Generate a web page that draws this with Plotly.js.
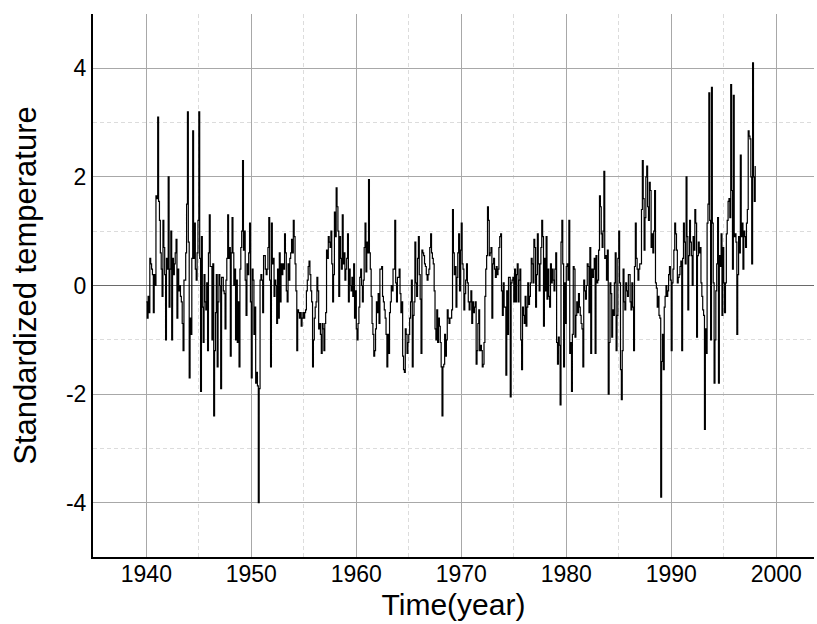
<!DOCTYPE html>
<html>
<head>
<meta charset="utf-8">
<script src="https://cdn.plot.ly/plotly-3.0.1.min.js"></script>
<style>html,body{margin:0;padding:0;background:#fff;}#chart{width:817px;height:624px;}</style>
</head>
<body>
<div id="chart"></div>
<script>
// Monthly standardized temperature, one array per decade (January first)
var startYear = 1940;
var values1940s = [
  -0.3,-0.6,-0.2,-0.5,0.5,0.4,0.3,0.2,-0.5,0.2,0.0,1.65,
  1.6,3.1,1.55,1.2,0.6,0.3,-0.2,1.2,0.7,0.2,-1.0,0.5,
  0.3,2.0,-0.4,0.3,1.0,-1.0,0.5,0.2,0.4,0.6,0.85,-0.6,
  0.3,-0.1,0.0,-0.2,-0.3,-0.7,-1.2,0.1,0.1,0.6,1.5,3.2,
  0.8,-1.7,-0.6,-0.9,0.5,2.85,0.5,1.15,0.3,0.1,0.6,1.2,
  3.2,0.5,-1.95,0.9,-0.4,-1.05,0.2,-0.3,-0.45,0.05,-1.2,0.6,
  1.3,0.35,0.35,-1.0,0.4,-2.4,-1.2,-0.5,0.2,-1.5,-0.3,0.2,
  0.0,-1.9,0.15,0.15,-0.1,-0.15,-0.8,0.1,0.5,1.3,0.5,0.7,
  -1.3,0.6,1.25,0.6,0.0,0.3,-1.0,0.1,-1.05,-0.3,-1.5,0.3,
  0.7,1.0,2.3,0.65,1.0,0.1,-0.55,0.4,0.2,0.6,1.15,-0.3
];
var values1950s = [
  -1.7,0.3,0.1,-0.9,-0.4,-1.8,-1.6,-1.85,-4.0,-1.9,0.1,0.2,
  0.1,-0.5,0.55,0.55,0.3,0.2,0.3,0.7,1.25,0.1,-1.5,1.15,
  0.4,0.5,-0.2,0.1,0.0,-0.7,0.3,-0.6,0.6,-0.3,0.4,0.2,
  0.4,0.3,0.95,0.6,-0.1,-0.3,0.4,0.1,0.5,0.6,0.85,0.6,
  1.2,0.9,0.4,-0.1,-1.2,-0.45,-0.5,-0.6,-0.5,-0.75,-0.6,-0.5,
  -0.6,-0.5,-0.45,-0.1,0.1,0.35,0.45,0.2,-0.1,-0.3,-1.5,-1.0,
  -0.6,-0.4,-0.3,0.15,-0.1,-0.8,-0.7,-0.9,-1.25,-0.7,-0.8,-1.2,
  -0.7,-0.5,0.65,0.5,0.9,0.8,0.7,1.0,0.4,-0.3,0.2,1.35,
  0.9,1.8,1.45,1.0,-0.2,0.9,0.5,0.3,1.3,0.4,0.6,0.1,
  0.3,0.5,0.95,-0.3,0.3,0.0,-0.1,0.15,-0.2,0.4,-0.6,-0.1
];
var values1960s = [
  -0.8,-1.0,-0.7,-0.4,0.15,0.3,0.0,-0.3,0.1,0.7,1.15,0.25,
  0.8,0.6,1.95,0.6,0.3,-0.2,-0.7,-0.9,-1.3,-1.2,-0.8,-0.3,
  -0.5,-0.15,-0.7,0.3,0.3,0.35,-0.2,-0.3,-0.45,-0.6,-0.9,-1.5,
  -0.9,-1.25,-0.5,-0.3,0.0,-0.1,0.3,0.3,1.2,0.05,-0.3,0.15,
  0.15,0.3,-0.15,-0.5,-0.3,-1.3,-1.55,-1.6,-0.8,-0.9,-1.25,-1.05,
  -0.9,-0.6,-0.3,0.1,-1.5,-0.55,-0.3,0.8,0.05,-0.2,0.5,0.9,
  0.2,-0.25,-1.25,0.65,0.6,0.55,0.4,0.35,0.2,0.1,0.2,0.3,
  0.7,0.95,0.6,0.5,0.4,-0.1,-0.8,-1.0,-0.45,-1.05,-0.6,-0.75,
  -1.05,-1.5,-2.4,-1.5,-1.45,-0.9,-1.3,-1.0,-0.45,-0.6,-0.7,-0.6,
  -0.6,-0.45,1.4,0.6,0.2,0.35,-0.4,0.15,0.6,0.95,-0.1,0.65
];
var values1970s = [
  1.15,0.4,0.3,-0.45,-0.15,0.1,0.4,0.05,-0.3,-0.45,-0.3,-0.1,
  -0.7,-0.3,-0.5,-0.4,-0.3,-1.45,-1.2,-0.7,-0.45,-1.2,-1.1,-1.2,
  -1.5,-1.45,-1.05,-0.2,0.3,0.55,1.45,1.2,0.55,0.6,0.7,-0.6,
  0.4,0.5,0.3,0.15,0.35,0.2,0.3,0.7,0.9,0.95,-0.1,-0.55,
  0.05,-0.4,-0.4,-1.65,-0.1,-0.9,0.15,0.15,-2.05,0.05,0.1,0.15,
  -0.3,0.3,-0.3,0.2,0.4,-0.3,0.1,0.3,-1.0,-1.55,-0.4,-0.55,
  -0.7,-0.2,-0.75,-0.4,0.05,-0.35,-0.2,0.05,0.5,0.4,0.05,0.85,
  0.7,-0.4,0.2,0.95,0.4,-0.1,0.4,0.7,1.2,0.9,-0.75,0.5,
  -0.1,0.9,-0.25,0.3,-0.2,-0.4,0.4,0.05,0.3,0.1,-0.1,0.3,
  0.6,-1.05,-1.45,-0.95,-1.1,-2.2,0.8,1.2,0.4,-1.5,0.05,-0.7
];
var values1980s = [
  0.35,0.4,0.1,1.2,-1.25,-1.05,-1.95,-0.9,0.35,0.3,-0.95,-0.55,
  -0.3,-0.5,-0.15,-0.4,-0.55,-0.7,-0.8,-1.5,0.1,-0.1,-0.25,0.0,
  0.4,0.35,-0.5,0.7,-1.25,0.3,0.15,0.3,0.5,-1.25,0.55,0.05,
  0.1,0.65,1.65,1.45,0.95,0.7,1.0,2.1,0.5,0.55,0.1,0.65,
  -2.0,-1.05,0.05,-0.15,-0.95,-0.45,-0.55,0.05,0.6,-1.2,-0.55,0.5,
  1.0,0.05,-1.55,-2.1,-1.2,0.3,-0.3,-0.45,0.05,-0.1,-0.2,0.2,
  0.2,-0.3,-0.45,0.05,-0.4,-1.2,0.35,1.15,0.5,0.3,0.1,0.3,
  0.4,0.4,1.4,2.3,1.6,0.65,1.25,2.0,2.2,1.45,1.2,1.9,
  1.75,0.7,0.95,0.6,1.0,1.75,0.05,-0.05,-0.4,-0.2,-0.55,-0.6,
  -3.9,-1.4,-0.9,-1.55,-0.4,-0.2,0.0,-0.2,-0.1,0.2,0.35,0.1
];
var values1990s = [
  -1.2,0.05,0.3,0.65,1.15,0.95,0.65,0.05,0.15,0.2,0.35,0.45,
  -1.2,0.5,1.15,0.8,0.4,2.0,0.9,-0.45,0.55,1.2,0.8,0.55,
  0.0,0.9,0.65,1.4,1.15,-0.95,0.55,0.8,0.6,0.7,0.05,-0.2,
  -0.45,-0.55,-2.65,-0.8,-1.25,1.15,1.5,3.55,1.2,-1.0,3.65,1.15,
  0.05,-1.8,-1.0,-0.1,0.4,1.25,-1.8,0.55,0.35,0.95,-0.55,0.7,
  0.05,-0.5,0.05,0.95,1.2,1.55,1.6,1.25,3.7,1.75,0.3,3.5,
  0.9,0.95,0.8,-0.9,0.2,0.9,0.6,2.4,0.9,1.15,0.3,1.0,
  0.9,0.7,1.15,1.4,2.85,2.75,2.7,2.0,0.4,4.1,2.0,1.55,
  2.2
];
var xTickVals = [1940, 1950, 1960, 1970, 1980, 1990, 2000];
var yTickVals = [-4, -2, 0, 2, 4];
var yTickText = ['-4', '-2', '0', '2', '4'];
var xTitle = 'Time(year)';
var yTitle = 'Standardized temperature';

var series = [].concat(values1940s, values1950s, values1960s, values1970s, values1980s, values1990s);
var times = series.map(function (v, i) { return startYear + i / 12; });

var font = '"Liberation Sans", Arial, sans-serif';
var trace = {
  x: times, y: series, type: 'scatter', mode: 'lines',
  line: {color: '#000', width: 1.2, shape: 'hv'}, hoverinfo: 'skip'
};
var layout = {
  width: 817, height: 624,
  margin: {l: 93, r: 3, t: 14, b: 67},
  paper_bgcolor: '#fff', plot_bgcolor: '#fff',
  showlegend: false,
  font: {family: font, color: '#000'},
  xaxis: {
    range: [1934.92, 2003.6],
    tickmode: 'array', tickvals: xTickVals,
    showgrid: true, gridcolor: '#a8a8a8', gridwidth: 1,
    minor: {tickmode: 'linear', tick0: 1935, dtick: 5, showgrid: true, gridcolor: '#dcdcdc', griddash: '4px,3px', gridwidth: 1},
    zeroline: false,
    showline: true, linecolor: '#000', linewidth: 2,
    ticks: '', ticklabelstandoff: -5,
    tickfont: {size: 23, color: '#000', family: font},
    title: {text: xTitle, font: {size: 30, color: '#000', family: font}, standoff: 8}
  },
  yaxis: {
    range: [-5, 5],
    tickmode: 'array', tickvals: yTickVals, ticktext: yTickText,
    showgrid: true, gridcolor: '#a8a8a8', gridwidth: 1,
    minor: {tickmode: 'linear', tick0: -5, dtick: 1, showgrid: true, gridcolor: '#dcdcdc', griddash: '4px,3px', gridwidth: 1},
    zeroline: true, zerolinecolor: '#6a6a6a', zerolinewidth: 1,
    showline: true, linecolor: '#000', linewidth: 2,
    ticks: '', tickfont: {size: 23, color: '#000', family: font},
    title: {text: yTitle, font: {size: 31, color: '#000', family: font}, standoff: 20}
  }
};
Plotly.newPlot('chart', [trace], layout, {staticPlot: true, displayModeBar: false});
</script>
</body>
</html>
